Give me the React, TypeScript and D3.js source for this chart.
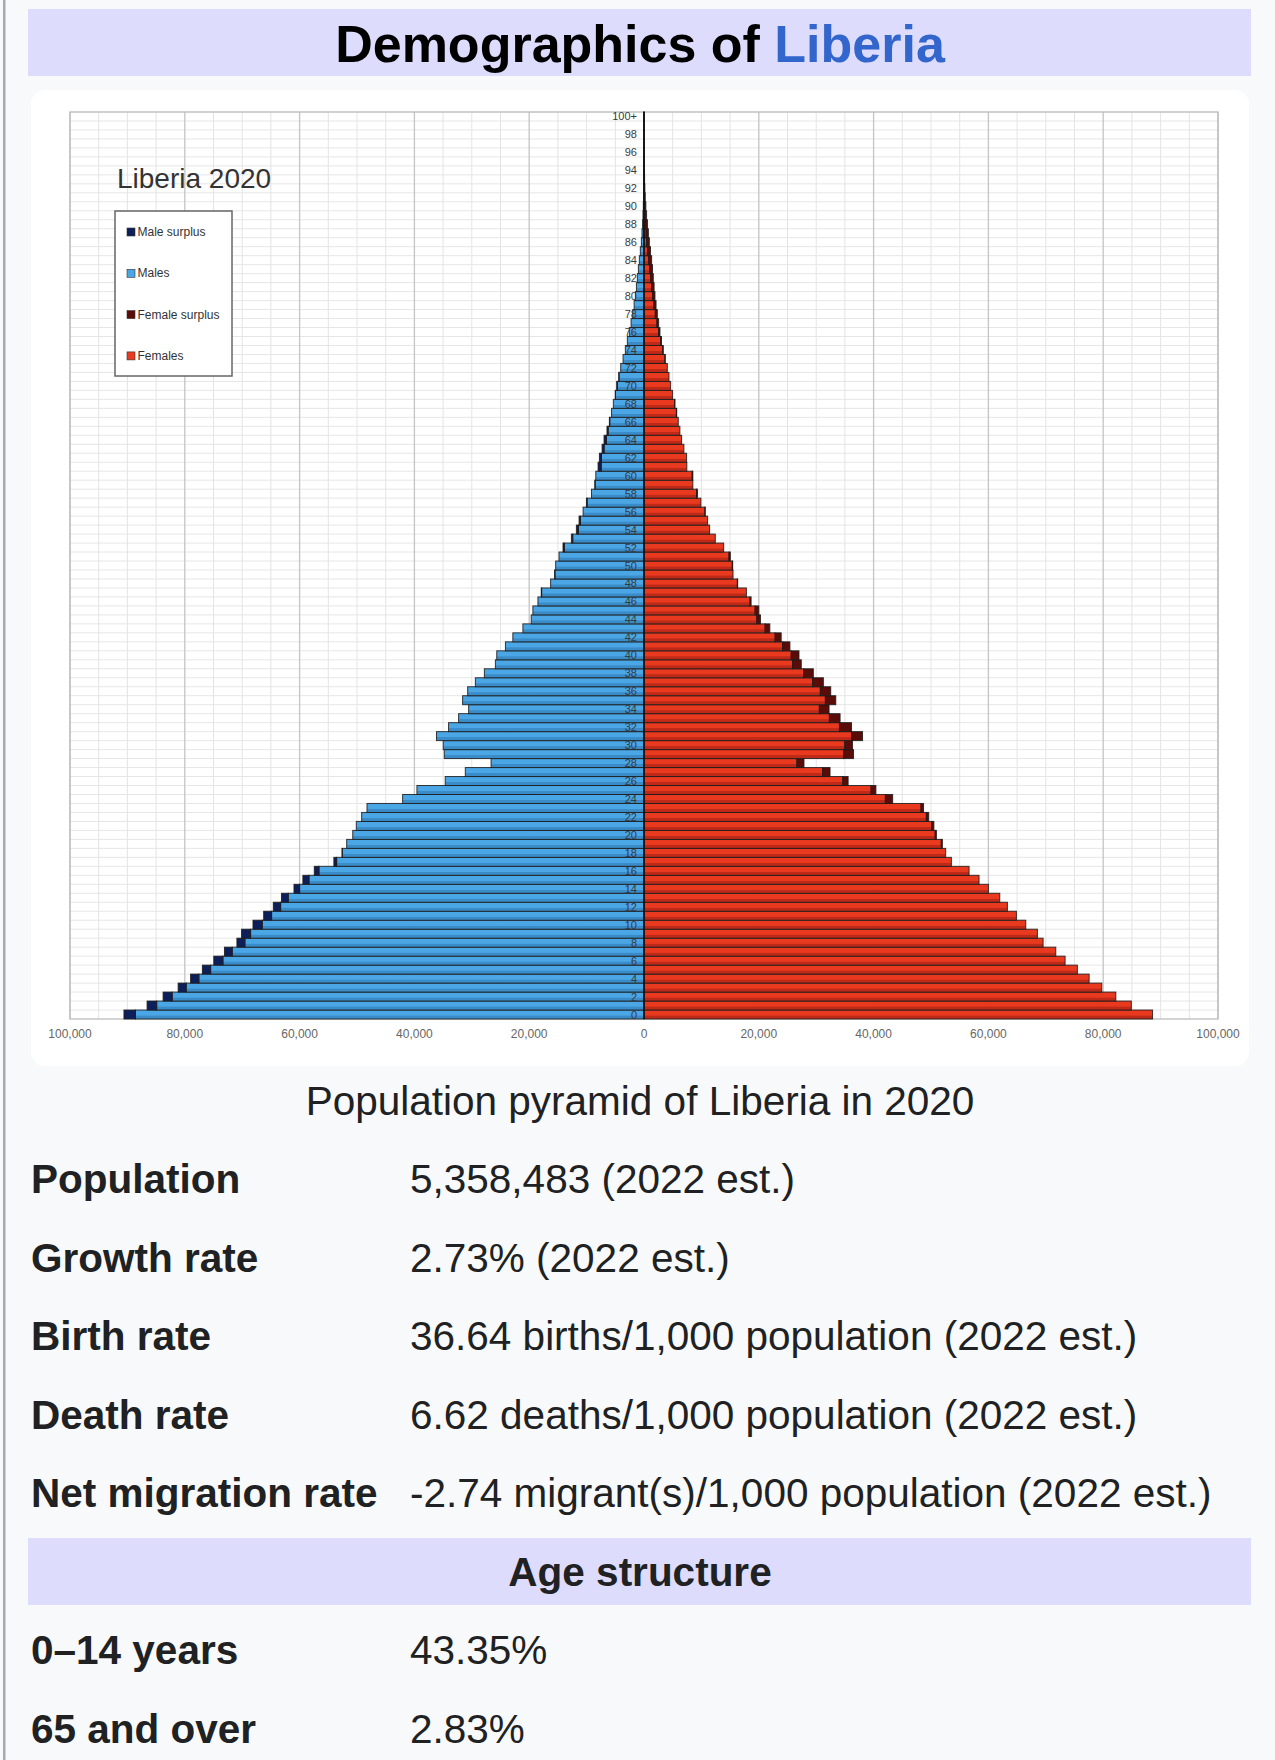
import React, { useEffect } from 'react';
import * as d3 from 'd3';

// population by single year of age, 0..100+
const males = [
  90600, 86570, 83780, 81160, 78990, 76940, 74950, 73090, 70920, 70110,
  68120, 66260, 64580, 63160, 60980, 59430, 57440, 54030, 52610, 51800,
  50740, 50120, 49190, 48260, 42050, 39560, 34630, 31130, 26640, 34800,
  34980, 36150, 34050, 32300, 30550, 31600, 30720, 29380, 27810, 25890,
  25650, 24140, 22850, 21100, 19650, 19360, 18480, 17900, 16270, 15570,
  15390, 14810, 14110, 12650, 11780, 11310, 10610, 10030, 9150, 8570,
  8400, 8000, 7770, 7300, 6960, 6450, 6030, 5650, 5340, 5000,
  4760, 4400, 4060, 3650, 3250, 2900, 2550, 2250, 1970, 1720,
  1500, 1320, 1160, 980, 810, 640, 460, 350, 250, 180,
  120, 80, 50, 35, 25, 15, 10, 6, 4, 2, 2,
];

const females = [
  88600, 84900, 82200, 79750, 77550, 75500, 73360, 71740, 69530, 68540,
  66510, 64880, 63310, 61980, 60000, 58370, 56630, 53550, 52560, 51980,
  50940, 50500, 49600, 48700, 43320, 40400, 35560, 32410, 27870, 36500,
  36320, 38070, 36150, 34160, 32240, 33410, 32530, 31250, 29500, 27400,
  27000, 25420, 23900, 21920, 20290, 20000, 18660, 17840, 16320, 15510,
  15450, 15040, 13880, 12420, 11430, 11080, 10670, 9910, 9330, 8510,
  8510, 7460, 7420, 6950, 6550, 6250, 5970, 5700, 5390, 4980,
  4640, 4350, 4060, 3700, 3360, 3050, 2780, 2550, 2320, 2100,
  1910, 1760, 1620, 1480, 1330, 1130, 930, 760, 600, 450,
  320, 220, 150, 100, 65, 40, 25, 15, 10, 6, 5,
];

const ages = d3.range(0, 101);
const legendItems = ['Male surplus', 'Males', 'Female surplus', 'Females'];

const statLabels = ['Population', 'Growth rate', 'Birth rate', 'Death rate', 'Net migration rate'];
const statValues = [
  '5,358,483 (2022 est.)',
  '2.73% (2022 est.)',
  '36.64 births/1,000 population (2022 est.)',
  '6.62 deaths/1,000 population (2022 est.)',
  '-2.74 migrant(s)/1,000 population (2022 est.)',
];
const ageLabels = ['0–14 years', '65 and over'];
const ageValues = ['43.35%', '2.83%'];

const COLORS = {
  male: '#4aa6e4',
  maleDark: '#3a8cc8',
  maleSurplus: '#0c1f5a',
  female: '#e9391f',
  femaleDark: '#bf2a18',
  femaleSurplus: '#5a0d08',
};
const legendColors = [COLORS.maleSurplus, COLORS.male, COLORS.femaleSurplus, COLORS.female];

const FONT = '"Liberation Sans", Arial, Helvetica, sans-serif';

const App: React.FC = () => {
  useEffect(() => {
    document.body.style.margin = '0';
  }, []);

  const width = 1275;
  const height = 1760;
  const plot = { left: 70, right: 1218, top: 112, bottom: 1019 };

  const x = d3.scaleLinear().domain([-100000, 100000]).range([plot.left, plot.right]);
  const y = d3.scaleBand<number>()
    .domain(ages.slice().reverse())
    .range([plot.top, plot.bottom])
    .padding(0);
  const bh = y.bandwidth();

  const majorTicks = d3.range(-100000, 100001, 20000);
  const minorTicks = d3.range(-100000, 100001, 5000).filter(v => v % 20000 !== 0);
  const fmt = d3.format(',');

  const rowY = (i: number) => 1193 + i * 78.5;

  return (
    <svg width={width} height={height} style={{ display: 'block' }} fontFamily={FONT}>
      <defs>
        <linearGradient id="gMale" x1="0" y1="0" x2="0" y2="1">
          <stop offset="0%" stopColor={COLORS.male} />
          <stop offset="58%" stopColor={COLORS.male} />
          <stop offset="66%" stopColor={COLORS.maleDark} />
          <stop offset="100%" stopColor={COLORS.maleDark} />
        </linearGradient>
        <linearGradient id="gFemale" x1="0" y1="0" x2="0" y2="1">
          <stop offset="0%" stopColor={COLORS.female} />
          <stop offset="58%" stopColor={COLORS.female} />
          <stop offset="66%" stopColor={COLORS.femaleDark} />
          <stop offset="100%" stopColor={COLORS.femaleDark} />
        </linearGradient>
      </defs>

      <rect width={width} height={height} fill="#f8f9fa" />
      <rect x={3} y={0} width={2.5} height={height} fill="#a2a9b1" />

      {/* header */}
      <rect x={28} y={9} width={1223} height={67} fill="#dddcfd" />
      <text x={640} y={62} textAnchor="middle" fontSize={52} fontWeight="bold" fill="#000">
        Demographics of <tspan fill="#3366cc">Liberia</tspan>
      </text>

      {/* chart panel */}
      <rect x={31} y={90} width={1218} height={976} rx={14} fill="#fff" />

      {/* grid */}
      <g>
        {ages.map(a => (
          <line key={'h' + a} x1={plot.left} x2={plot.right}
            y1={(y(a) as number)} y2={(y(a) as number)} stroke="#e6e6e6" strokeWidth={1} />
        ))}
        {minorTicks.map(v => (
          <line key={'mi' + v} x1={x(v)} x2={x(v)} y1={plot.top} y2={plot.bottom}
            stroke="#e4e4e4" strokeWidth={1} />
        ))}
        {majorTicks.map(v => (
          <line key={'ma' + v} x1={x(v)} x2={x(v)} y1={plot.top} y2={plot.bottom}
            stroke="#c4c4c4" strokeWidth={1.3} />
        ))}
        <rect x={plot.left} y={plot.top} width={plot.right - plot.left} height={plot.bottom - plot.top}
          fill="none" stroke="#bdbdbd" strokeWidth={1.3} />
      </g>

      {/* bars */}
      <g stroke="#1b1b1b" strokeWidth={1} strokeOpacity={0.85}>
        {ages.map(a => {
          const m = males[a];
          const f = females[a];
          const c = Math.min(m, f);
          const yy = y(a) as number;
          return (
            <g key={'b' + a}>
              <rect x={x(-c)} y={yy} width={x(0) - x(-c)} height={bh} fill="url(#gMale)" />
              {m > f && (
                <rect x={x(-m)} y={yy} width={x(-c) - x(-m)} height={bh} fill={COLORS.maleSurplus} />
              )}
              <rect x={x(0)} y={yy} width={x(c) - x(0)} height={bh} fill="url(#gFemale)" />
              {f > m && (
                <rect x={x(c)} y={yy} width={x(f) - x(c)} height={bh} fill={COLORS.femaleSurplus} />
              )}
            </g>
          );
        })}
      </g>

      {/* centre axis */}
      <line x1={x(0)} x2={x(0)} y1={plot.top} y2={plot.bottom} stroke="#111" strokeWidth={1.6} />

      {/* age labels */}
      <g fontSize={11} fill="#3a3a3a" textAnchor="end">
        {ages.filter(a => a % 2 === 0).map(a => (
          <text key={'al' + a} x={x(0) - 7} y={(y(a) as number) + bh / 2 + 4}>
            {a === 100 ? '100+' : a}
          </text>
        ))}
      </g>

      {/* x axis labels */}
      <g fontSize={12} fill="#666" textAnchor="middle">
        {majorTicks.map(v => (
          <text key={'xl' + v} x={x(v)} y={1038}>{fmt(Math.abs(v))}</text>
        ))}
      </g>

      {/* chart title + legend */}
      <text x={117} y={188} fontSize={28} fill="#333">Liberia 2020</text>
      <rect x={115} y={211} width={117} height={165} fill="#fff" stroke="#666" strokeWidth={1.5} />
      {legendItems.map((name, i) => {
        const cy = 232 + i * 41.3;
        return (
          <g key={name}>
            <rect x={127} y={cy - 4} width={8} height={8} fill={legendColors[i]} stroke="#333" strokeWidth={0.6} />
            <text x={137.5} y={cy + 4} fontSize={12} fill="#333">{name}</text>
          </g>
        );
      })}

      {/* caption */}
      <text x={640} y={1115} textAnchor="middle" fontSize={40.5} fill="#202122">
        Population pyramid of Liberia in 2020
      </text>

      {/* stats table */}
      {statLabels.map((label, i) => (
        <g key={label} fontSize={40.5} fill="#202122">
          <text x={31} y={rowY(i)} fontWeight="bold">{label}</text>
          <text x={410} y={rowY(i)}>{statValues[i]}</text>
        </g>
      ))}

      <rect x={28} y={1538} width={1223} height={67} fill="#dddcfd" />
      <text x={640} y={1586} textAnchor="middle" fontSize={40.5} fontWeight="bold" fill="#202122">
        Age structure
      </text>

      {ageLabels.map((label, i) => (
        <g key={label} fontSize={40.5} fill="#202122">
          <text x={31} y={1664 + i * 79} fontWeight="bold">{label}</text>
          <text x={410} y={1664 + i * 79}>{ageValues[i]}</text>
        </g>
      ))}
    </svg>
  );
};

export default App;
